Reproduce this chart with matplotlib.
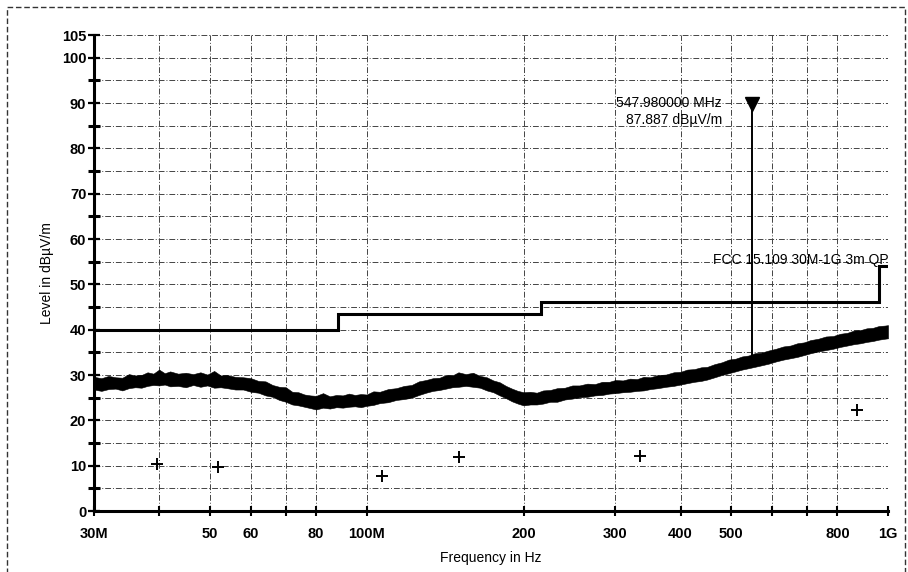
import numpy as np
import matplotlib
matplotlib.use("Agg")
import matplotlib.pyplot as plt
from matplotlib.patches import Rectangle

plt.rcParams['font.family'] = ['Liberation Sans', 'DejaVu Sans']

# trace readings (MHz, dBuV/m) - lower and upper edge of the noisy band
freq_mhz = [30, 31, 32, 33, 34, 35, 36, 37, 38, 39, 40, 41, 42, 43.5, 45, 46.5, 48, 49.5, 51, 52.5,
            54, 56, 58, 60, 62, 64, 66, 68, 70, 72, 74, 76, 78, 80, 82.5, 85, 87.5, 90, 92.5, 95,
            97.5, 100, 103, 106, 110, 114, 118, 122, 126, 130, 134, 138, 142, 146, 150, 155, 160,
            165, 170, 175, 180, 185, 190, 195, 200, 206, 212, 218, 225, 232, 240, 248, 256, 265,
            274, 283, 292, 300, 310, 320, 330, 340, 350, 362, 375, 388, 400, 412, 425, 438, 450,
            465, 480, 495, 510, 525, 540, 555, 570, 590, 610, 630, 650, 670, 690, 710, 735, 760,
            785, 810, 835, 860, 885, 910, 935, 960, 985, 1000]
trace_lo = [26.8, 26.5, 26.9, 27.0, 26.6, 27.1, 27.3, 27.2, 27.6, 27.8, 27.7, 27.9, 27.5, 27.6, 27.3,
            27.8, 27.4, 27.7, 27.2, 27.3, 27.1, 26.8, 26.8, 26.3, 26.1, 25.5, 25.2, 24.5, 24.1, 23.5,
            23.3, 23.0, 22.7, 22.4, 22.8, 22.6, 22.9, 22.8, 23.0, 23.1, 22.9, 23.2, 23.4, 23.8, 24.0,
            24.5, 24.7, 25.0, 25.6, 26.1, 26.5, 26.7, 27.0, 27.3, 27.4, 27.6, 27.4, 27.2, 26.6, 26.2,
            25.5, 24.9, 24.2, 23.7, 23.3, 23.5, 23.5, 23.7, 24.1, 24.1, 24.6, 24.8, 25.1, 25.2, 25.5,
            25.6, 25.9, 26.0, 26.2, 26.3, 26.5, 26.6, 26.9, 27.1, 27.4, 27.6, 27.9, 28.2, 28.5, 28.7,
            29.0, 29.5, 30.0, 30.4, 30.8, 31.2, 31.5, 31.8, 32.1, 32.5, 33.0, 33.4, 33.7, 34.0, 34.4,
            34.8, 35.2, 35.5, 35.8, 36.2, 36.5, 36.8, 37.0, 37.3, 37.5, 37.8, 38.0, 38.1]
trace_hi = [29.6, 29.3, 29.8, 29.5, 29.4, 30.2, 29.9, 30.0, 30.6, 30.3, 31.2, 30.4, 30.8, 30.3, 30.5,
            30.2, 30.6, 30.1, 30.9, 29.9, 30.0, 29.6, 29.5, 29.3, 28.7, 28.6, 27.8, 27.4, 27.3, 26.3,
            26.2, 25.7, 25.5, 25.4, 26.0, 25.3, 25.6, 25.5, 25.9, 25.6, 25.8, 25.7, 26.4, 26.3, 26.9,
            27.1, 27.6, 27.8, 28.6, 28.9, 29.3, 29.4, 30.0, 29.9, 30.6, 30.2, 30.5, 29.8, 29.5, 28.8,
            28.4, 27.6, 27.0, 26.5, 26.2, 26.3, 26.1, 26.6, 26.7, 27.1, 27.2, 27.7, 27.7, 28.1, 28.0,
            28.5, 28.5, 28.9, 28.8, 29.2, 29.1, 29.6, 29.5, 30.0, 30.1, 30.6, 30.7, 31.2, 31.3, 31.7,
            31.8, 32.4, 32.8, 33.4, 33.6, 34.1, 34.3, 34.8, 34.9, 35.4, 35.8, 36.3, 36.5, 37.0, 37.2,
            37.7, 38.0, 38.5, 38.6, 39.1, 39.3, 39.8, 39.9, 40.3, 40.4, 40.8, 40.9, 41.0]

# FCC 15.109 limit (class B, 3 m, QP)
limit_mhz = [30, 88, 88, 216, 216, 960, 960, 1000]
limit_db = [40, 40, 43.5, 43.5, 46, 46, 54, 54]

# quasi-peak final measurements
qp_mhz = [39.6, 51.9, 107, 150.3, 335, 873]
qp_db = [10.3, 9.8, 7.8, 12.0, 12.2, 22.3]

marker_mhz = 547.98
marker_db = 87.887
marker_foot = 34.3

xmaj = [30, 50, 60, 80, 100, 200, 300, 400, 500, 800, 1000]
xmaj_labels = ["30M", "50", "60", "80", "100M", "200", "300", "400", "500", "800", "1G"]
xmin = [40, 70, 600, 700]

fig = plt.figure(figsize=(9.08, 5.72), dpi=100)
ax = fig.add_axes([0.1035, 0.1066, 0.8745, 0.8322])

f = np.array(freq_mhz) * 1e6
ax.fill_between(f, trace_lo, trace_hi, color='black', lw=0.4, edgecolor='black')

ax.plot(np.array(limit_mhz) * 1e6, limit_db, color='black', lw=2.2, solid_joinstyle='miter')

ax.plot(np.array(qp_mhz) * 1e6, qp_db, '+', color='black', ms=9, mew=1.4)

ax.plot([marker_mhz * 1e6, marker_mhz * 1e6], [marker_foot, marker_db + 1.0], color='black', lw=1.4)
ax.plot(marker_mhz * 1e6, marker_db + 2.0, 'v', color='black', ms=10)
ax.text(480e6, 91.6, "547.980000 MHz\n87.887 dBµV/m", ha='right', va='top',
        fontsize=10, linespacing=1.3)

ax.text(1e9 + 4e6, 53.9, "FCC 15.109 30M-1G 3m QP", ha='right', va='bottom', fontsize=10)

ax.set_xscale('log')
ax.set_xlim(30e6, 1e9)
ax.set_ylim(0, 105)

ax.set_xticks([v * 1e6 for v in xmaj])
ax.set_xticklabels(xmaj_labels, fontsize=10.5, fontweight='bold')
ax.set_xticks([v * 1e6 for v in xmin], minor=True)
ax.xaxis.set_minor_formatter(matplotlib.ticker.NullFormatter())

ax.set_yticks(list(range(0, 101, 10)) + [105])
ax.set_yticklabels([str(v) for v in range(0, 101, 10)] + ["105"], fontsize=10.5, fontweight='bold')
ax.set_yticks(list(range(5, 100, 10)), minor=True)

ax.tick_params(axis='y', which='major', direction='inout', length=9, width=1.6, pad=1)
ax.tick_params(axis='y', which='minor', direction='inout', length=9, width=2.2)
ax.tick_params(axis='x', which='both', direction='inout', length=7, width=1.5, pad=8)

ax.grid(True, which='both', color='#444444', linestyle=(0, (6, 2, 1, 2)), lw=0.7)
for s in ['top', 'right']:
    ax.spines[s].set_visible(False)
ax.spines['left'].set_linewidth(2.2)
ax.spines['bottom'].set_linewidth(2.2)
ax.set_axisbelow(True)

ax.set_xlabel("Frequency in Hz", fontsize=10, labelpad=7)
ax.set_ylabel("Level in dBµV/m", fontsize=10, labelpad=6)

fig.patches.append(Rectangle((0.008, -0.02), 0.989, 1.008, transform=fig.transFigure,
                             fill=False, ls=(0, (4, 2)), lw=1.0, color='#333333'))

plt.savefig("out.png", dpi=100)
